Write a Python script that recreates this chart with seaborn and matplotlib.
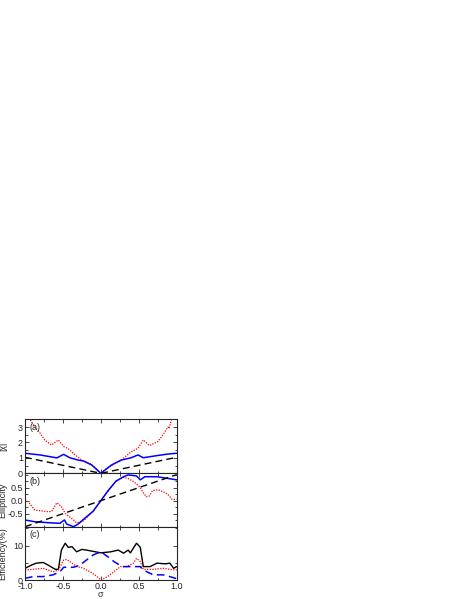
import numpy as np
import pandas as pd
import matplotlib
matplotlib.use("Agg")
import matplotlib.pyplot as plt
from matplotlib.ticker import MultipleLocator
import seaborn as sns

## DATA
# panel (a) |chi|
a_red_x = [-0.93, -0.87, -0.80, -0.74, -0.65, -0.56, -0.49, -0.43, -0.34, -0.25, -0.14, -0.05, 0.0,
           0.05, 0.14, 0.27, 0.40, 0.49, 0.56, 0.64, 0.75, 0.82, 0.885, 0.90, 0.93, 0.95]
a_red_y = [3.46, 3.0, 2.6, 2.16, 1.84, 2.16, 1.73, 1.60, 1.19, 0.86, 0.62, 0.25, 0.0,
           0.22, 0.50, 0.86, 1.40, 1.62, 2.16, 1.80, 2.05, 2.50, 3.00, 2.90, 3.46, 3.7]
a_blue_x = [-1.0, -0.8, -0.58, -0.49, -0.41, -0.30, -0.23, -0.12, 0.0,
            0.14, 0.27, 0.40, 0.49, 0.56, 0.73, 0.885, 1.0]
a_blue_y = [1.30, 1.19, 1.00, 1.23, 1.01, 0.86, 0.80, 0.54, 0.0,
            0.54, 0.86, 1.01, 1.19, 1.01, 1.14, 1.25, 1.30]
a_black_x = [-1.0, 0.0, 1.0]
a_black_y = [1.04, 0.0, 1.04]

# panel (b) ellipticity
b_red_x = [-1.0, -0.96, -0.87, -0.71, -0.65, -0.58, -0.52, -0.47, -0.36, -0.32, -0.25, -0.2, -0.1, 0.0,
           0.1, 0.2, 0.3, 0.36, 0.42, 0.48, 0.52, 0.56, 0.60, 0.64, 0.68, 0.75, 0.82, 0.88, 0.94, 1.0]
b_red_y = [0.03, -0.04, -0.36, -0.42, -0.42, -0.08, -0.23, -0.49, -0.74, -0.85, -0.82, -0.7, -0.4, 0.0,
           0.4, 0.75, 0.90, 0.85, 0.75, 0.62, 0.50, 0.30, 0.15, 0.18, 0.38, 0.42, 0.35, 0.25, 0.05, 0.05]
b_blue_x = [-1.0, -0.87, -0.67, -0.54, -0.48, -0.45, -0.36, -0.30, -0.23, -0.1, 0.0,
            0.1, 0.2, 0.30, 0.36, 0.47, 0.52, 0.58, 0.74, 0.87, 1.0]
b_blue_y = [-0.74, -0.81, -0.85, -0.87, -0.74, -0.90, -1.0, -0.90, -0.72, -0.4, 0.0,
            0.4, 0.75, 0.92, 0.99, 0.95, 0.80, 0.92, 0.92, 0.86, 0.80]
b_black_x = [-1.0, 1.0]
b_black_y = [-1.0, 1.0]

# panel (c) efficiency (%)
c_black_x = [-1.0, -0.91, -0.85, -0.76, -0.70, -0.60, -0.56, -0.52, -0.47, -0.43, -0.38, -0.32, -0.25, -0.19,
             0.0, 0.13, 0.23, 0.30, 0.36, 0.39, 0.47, 0.52, 0.56, 0.65, 0.74, 0.85, 0.91, 0.96, 1.0]
c_black_y = [3.4, 4.4, 4.9, 5.1, 4.4, 3.1, 3.1, 8.7, 10.7, 9.5, 9.7, 8.2, 8.9, 8.7,
             7.9, 8.2, 8.7, 7.8, 8.7, 7.9, 10.7, 9.5, 3.9, 3.9, 4.9, 4.7, 4.9, 3.4, 3.9]
c_red_x = [-1.0, -0.76, -0.63, -0.56, -0.49, -0.45, -0.38, -0.32, -0.25, -0.14, -0.05, 0.0,
           0.09, 0.17, 0.26, 0.34, 0.43, 0.47, 0.52, 0.56, 0.69, 0.82, 0.98, 1.0]
c_red_y = [2.9, 3.4, 2.4, 2.9, 5.8, 6.0, 4.9, 3.9, 3.6, 2.4, 1.0, 0.0,
           1.0, 2.4, 3.9, 3.9, 4.9, 6.3, 5.4, 3.1, 3.1, 3.4, 2.9, 3.0]
c_blue_x = [-1.0, -0.89, -0.76, -0.63, -0.54, -0.49, -0.36, -0.27, -0.19, -0.10, 0.0,
            0.09, 0.17, 0.28, 0.36, 0.52, 0.56, 0.69, 0.82, 0.91, 0.98, 1.0]
c_blue_y = [0.5, 1.0, 1.0, 1.5, 2.4, 3.7, 3.7, 4.4, 5.8, 7.3, 8.2,
            6.8, 5.4, 3.9, 3.9, 3.9, 2.9, 1.5, 1.5, 1.0, 0.5, 0.4]

sns.set_style("ticks")
plt.rcParams['font.family'] = ['Liberation Sans', 'DejaVu Sans']
plt.rcParams['axes.linewidth'] = 0.8
fs = 6.5

fig = plt.figure(figsize=(4.63, 5.99), dpi=100)
left, width = 0.054, 0.3276
ax_a = fig.add_axes([left, 0.2098, width, 0.0902])
ax_b = fig.add_axes([left, 0.1207, width, 0.0891])
ax_c = fig.add_axes([left, 0.0317, width, 0.0890])

def draw(ax, x, y, color, ls, lw=0.9):
    df = pd.DataFrame({"x": x, "y": y})
    sns.lineplot(data=df, x="x", y="y", ax=ax, color=color, linestyle=ls,
                 linewidth=lw, estimator=None, sort=False)

dot = (0, (1, 1.1))
dash = (0, (5, 3))

draw(ax_a, a_red_x, a_red_y, "red", dot)
draw(ax_a, a_blue_x, a_blue_y, "blue", "-", 1.1)
draw(ax_a, a_black_x, a_black_y, "black", dash, 1.0)

draw(ax_b, b_red_x, b_red_y, "red", dot)
draw(ax_b, b_blue_x, b_blue_y, "blue", "-", 1.1)
draw(ax_b, b_black_x, b_black_y, "black", dash, 1.0)

draw(ax_c, c_black_x, c_black_y, "black", "-", 1.0)
draw(ax_c, c_red_x, c_red_y, "red", dot)
draw(ax_c, c_blue_x, c_blue_y, "blue", dash, 1.1)

ax_a.set_ylim(0, 3.5)
ax_b.set_ylim(-1.0, 1.05)
ax_c.set_ylim(0, 15.5)
ax_a.yaxis.set_major_locator(MultipleLocator(1))
ax_a.yaxis.set_minor_locator(MultipleLocator(0.5))
ax_b.set_yticks([-0.5, 0.0, 0.5])
ax_b.set_yticklabels(["-0.5", "0.0", "0.5"])
ax_b.yaxis.set_minor_locator(MultipleLocator(0.25))
ax_c.yaxis.set_major_locator(MultipleLocator(10))
ax_c.yaxis.set_minor_locator(MultipleLocator(5))

for ax, lab, yl in [(ax_a, "(a)", "|χ|"), (ax_b, "(b)", "Ellipticity"), (ax_c, "(c)", "Efficiency(%)")]:
    ax.set_xlim(-1.0, 1.0)
    ax.xaxis.set_major_locator(MultipleLocator(0.5))
    ax.xaxis.set_minor_locator(MultipleLocator(0.25))
    ax.tick_params(which="both", direction="in", top=True, right=True, labelsize=fs,
                   width=0.6, pad=1.5)
    ax.tick_params(which="major", length=3)
    ax.tick_params(which="minor", length=1.8)
    ax.text(0.03, 0.93, lab, transform=ax.transAxes, fontsize=fs, va="top")
    ax.set_ylabel(yl, fontsize=fs)
    ax.yaxis.set_label_coords(-0.115, 0.5)
    ax.set_xlabel("")
    if ax is not ax_c:
        ax.tick_params(labelbottom=False)

ax_c.set_xticks([-1.0, -0.5, 0.0, 0.5, 1.0])
ax_c.set_xticklabels(["-1.0", "-0.5", "0.0", "0.5", "1.0"])
ax_c.tick_params(axis="x", pad=1.5)
ax_c.set_xlabel("σ", fontsize=fs, labelpad=-1)

fig.savefig("out.png", dpi=100)
plt.close()
